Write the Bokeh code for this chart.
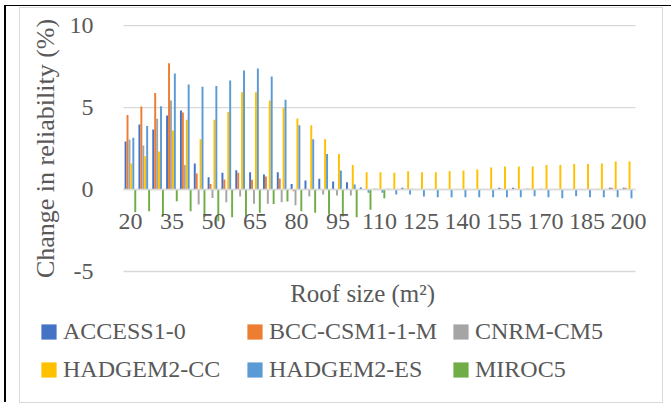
from bokeh.plotting import figure
from bokeh.layouts import column
from bokeh.models import (ColumnDataSource, Range1d, FixedTicker, LinearAxis,
                          Legend, LegendItem, Label)
from bokeh.transform import dodge
from bokeh.embed import file_html
from bokeh.resources import INLINE

# ---- data ----
roof_sizes = list(range(20, 201, 5))
x_tick_values = list(range(20, 201, 15))
y_tick_values = [-5, 0, 5, 10]

series_names = ["ACCESS1-0", "BCC-CSM1-1-M", "CNRM-CM5",
                "HADGEM2-CC", "HADGEM2-ES", "MIROC5"]

access1_0 = [2.93, 3.96, 3.66, 4.51, 4.82, 1.59, 0.75, 1.02, 1.18, 1.06, 0.91, 1.06,
             0.33, 0.55, 0.65, 0.49, 0.45, 0.12, 0.05, 0.05, 0.10, 0.0, 0.0, 0.0,
             0.0, 0.0, 0.0, 0.10, 0.10, 0.05, 0.05, 0.0, 0.0, 0.0, 0.0, 0.10, 0.10]
bcc_csm1_1_m = [4.55, 5.06, 5.89, 7.70, 4.70, 0.98, 0.33, 0.61, 1.02, 0.59, 0.79, 0.67,
                -0.10, 0.0, 0.0, 0.0, 0.0, 0.0, 0.05, 0.0, 0.05, 0.0, 0.0, 0.0,
                0.0, 0.0, 0.0, 0.05, 0.05, 0.05, 0.0, 0.0, 0.0, 0.0, 0.05, 0.10, 0.10]
cnrm_cm5 = [3.05, 2.68, 4.31, 5.43, 1.50, -0.91, -0.51, -0.77, -0.43, -0.87, -0.87, -0.77,
            -0.96, -0.43, -0.30, -0.37, -0.37, 0.0, 0.0, 0.0, 0.0, 0.0, 0.0, 0.0,
            0.0, 0.0, 0.0, 0.0, 0.0, 0.0, 0.0, 0.0, 0.0, 0.0, 0.0, 0.0, 0.0]
hadgem2_cc = [1.59, 2.03, 2.32, 3.60, 4.25, 3.07, 4.25, 4.72, 5.93, 5.93, 5.43, 4.98,
              4.33, 3.92, 3.07, 2.17, 1.50, 1.06, 1.06, 1.02, 1.12, 1.06, 1.06, 1.12,
              1.16, 1.22, 1.34, 1.40, 1.40, 1.40, 1.50, 1.50, 1.56, 1.56, 1.59, 1.71, 1.71]
hadgem2_es = [3.15, 3.88, 5.08, 7.07, 6.40, 6.26, 6.32, 6.65, 7.26, 7.38, 6.89, 5.47,
              3.92, 3.07, 2.17, 1.16, 0.30, -0.20, -0.20, -0.30, -0.30, -0.43, -0.47, -0.47,
              -0.47, -0.47, -0.47, -0.47, -0.47, -0.41, -0.47, -0.53, -0.41, -0.47, -0.47, -0.47, -0.53]
miroc5 = [-1.38, -1.32, -1.65, -0.71, -1.32, -1.69, -1.93, -1.69, -1.65, -1.42, -0.89, -0.73,
          -1.32, -1.42, -1.52, -1.65, -1.69, -1.24, -0.53, 0.0, 0.04, 0.0, 0.0, 0.0,
          0.0, 0.0, 0.0, 0.0, 0.0, 0.0, 0.0, 0.0, 0.0, 0.0, 0.0, 0.0, 0.0]

series_values = [access1_0, bcc_csm1_1_m, cnrm_cm5, hadgem2_cc, hadgem2_es, miroc5]
colors = ["#4472C4", "#ED7D31", "#A5A5A5", "#FFC000", "#5B9BD5", "#70AD47"]

# ---- styling ----
FONT = "Liberation Serif"
TXT = "#595959"
GRID = "#D9D9D9"

data = {"x": roof_sizes}
for i, vals in enumerate(series_values):
    data["s%d" % i] = vals
source = ColumnDataSource(data)

group_step = 5.0
x_lo = roof_sizes[0] - group_step / 2
x_hi = roof_sizes[-1] + group_step / 2

# the frame covers the whole canvas, so nothing (labels, legend) gets clipped
p = figure(width=642, height=394,
           x_range=Range1d(-19.72, 212.26), y_range=Range1d(-12.99, 11.04),
           output_backend="svg", toolbar_location=None,
           x_axis_location=None, y_axis_location=None,
           min_border=0)
p.margin = (2, 9, 0, 14)
p.styles = {"outline": "1.5px solid #D9D9D9"}
p.outline_line_color = None
p.background_fill_color = "white"
p.border_fill_color = "white"
p.grid.grid_line_color = None

# horizontal gridlines across the category span
p.segment(x0=[x_lo] * len(y_tick_values), x1=[x_hi] * len(y_tick_values),
          y0=y_tick_values, y1=y_tick_values, line_color=GRID, line_width=1.3)

bar_w = 0.14 * group_step
renderers = []
for i, col in enumerate(colors):
    p.vbar(x=dodge("x", (i - 2.5) * bar_w, range=p.x_range), top="s%d" % i,
           bottom=0, width=bar_w, source=source,
           fill_color=col, line_color=None)
    # square swatch for the legend only (no visible marks: y is NaN)
    sw = p.rect(x="x", y=float("nan"), width=1, height=1, source=source,
                fill_color=col, line_color=None)
    renderers.append(sw)

# y axis at the left edge of the category span
yax = LinearAxis(fixed_location=x_lo, ticker=FixedTicker(ticks=y_tick_values),
                 bounds=(y_tick_values[0], y_tick_values[-1]))
yax.major_label_overrides = {-5: "-5"}
yax.axis_line_color = None
yax.major_tick_line_color = None
yax.minor_tick_line_color = None
yax.major_label_standoff = 24
yax.major_label_text_font = FONT
yax.major_label_text_font_size = "24px"
yax.major_label_text_color = TXT
yax.axis_label = "Change in reliability (%)"
yax.axis_label_text_font = FONT
yax.axis_label_text_font_size = "26px"
yax.axis_label_text_font_style = "normal"
yax.axis_label_text_color = TXT
yax.axis_label_standoff = 7
p.add_layout(yax, "left")

# x axis crossing at zero
xax = LinearAxis(fixed_location=0, ticker=FixedTicker(ticks=x_tick_values),
                 bounds=(x_lo, x_hi))
xax.axis_line_color = GRID
xax.axis_line_width = 1.3
xax.major_tick_line_color = None
xax.minor_tick_line_color = None
xax.major_label_standoff = 18
xax.major_label_text_font = FONT
xax.major_label_text_font_size = "24px"
xax.major_label_text_color = TXT
p.add_layout(xax, "below")

p.add_layout(Label(x=103.9, y=-6.34, text="Roof size (m\u00b2)",
                   text_align="center", text_baseline="middle",
                   text_font=FONT, text_font_size="25px", text_color=TXT))

legend = Legend(items=[LegendItem(label=n, renderers=[r])
                       for n, r in zip(series_names, renderers)],
                location=(19, 16), orientation="horizontal", ncols=3,
                glyph_width=19, glyph_height=19, label_standoff=5,
                label_width=178, label_height=34, spacing=4,
                padding=0, margin=0, border_line_color=None,
                background_fill_alpha=0,
                label_text_font=FONT, label_text_font_size="24px",
                label_text_color=TXT)
p.add_layout(legend, "center")

root = column(p, styles={"border-top": "1.5px solid #000000",
                         "border-left": "2px solid #000000"})
root.margin = (5, 0, 0, 4)

open("out.html", "w").write(file_html(root, INLINE))
